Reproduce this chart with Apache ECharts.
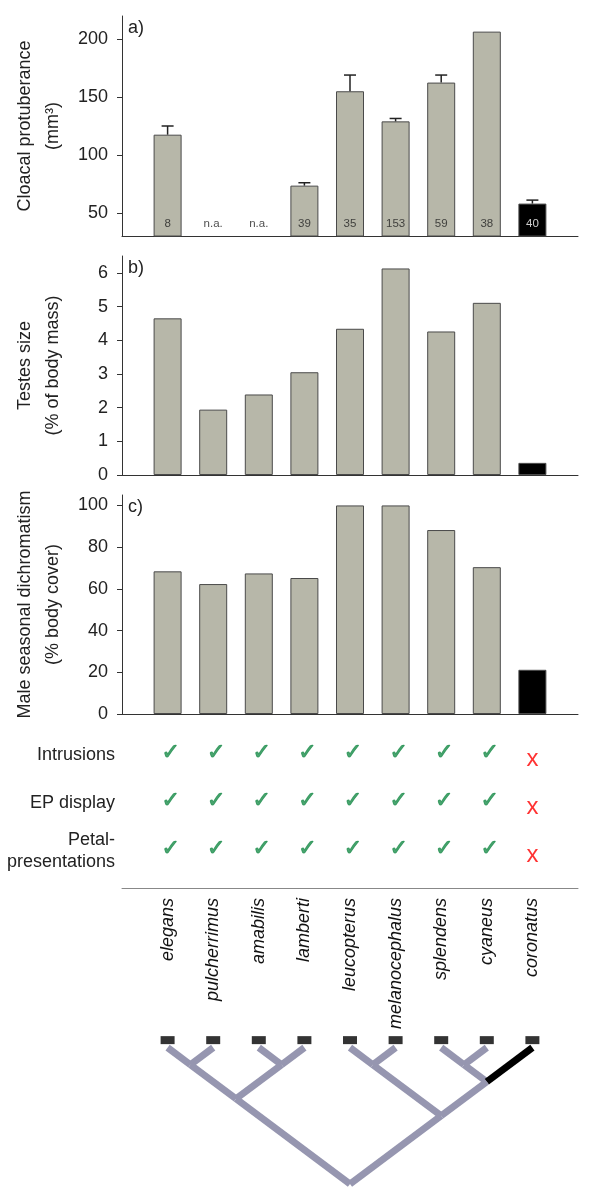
<!DOCTYPE html>
<html>
<head>
<meta charset="utf-8">
<style>
  html, body { margin: 0; padding: 0; background: #fff; }
  #chart { width: 600px; height: 1198px; }
</style>
<script src="https://cdn.jsdelivr.net/npm/echarts@6.0.0/dist/echarts.min.js"></script>
</head>
<body>
<div id="chart"></div>
<script>
const species = ['elegans', 'pulcherrimus', 'amabilis', 'lamberti', 'leucopterus', 'melanocephalus', 'splendens', 'cyaneus', 'coronatus'];

// a) cloacal protuberance (mm3), mean and upper error bar
const cloacal = [117.5, null, null, 73.5, 155, 129, 162.5, 206.5, 58];
const cloacalErr = [125, null, null, 76, 169, 131.5, 169, null, 61];
const sampleSizes = ['8', 'n.a.', 'n.a.', '39', '35', '153', '59', '38', '40'];
const cloacalTicks = [50, 100, 150, 200];

// b) testes size (% of body mass)
const testes = [4.65, 1.94, 2.39, 3.05, 4.34, 6.13, 4.26, 5.11, 0.36];
const testesTicks = [0, 1, 2, 3, 4, 5, 6];

// c) male seasonal dichromatism (% body cover)
const dichromatism = [68.4, 62.3, 67.4, 65.2, 100, 100, 88.2, 70.4, 21.2];
const dichromatismTicks = [0, 20, 40, 60, 80, 100];

// behaviour table (1 = present, 0 = absent)
const behaviours = ['Intrusions', 'EP display', 'Petal-\npresentations'];
const intrusions = [1, 1, 1, 1, 1, 1, 1, 1, 0];
const epDisplay = [1, 1, 1, 1, 1, 1, 1, 1, 0];
const petalPresentations = [1, 1, 1, 1, 1, 1, 1, 1, 0];

// cladogram: node -> [species position, depth below tips]
const treeNodes = {
  elegans: [1, 0], pulcherrimus: [2, 0], amabilis: [3, 0], lamberti: [4, 0],
  leucopterus: [5, 0], melanocephalus: [6, 0], splendens: [7, 0], cyaneus: [8, 0], coronatus: [9, 0],
  n12: [1.5, 0.5], n34: [3.5, 0.5], left: [2.5, 1.5],
  n56: [5.5, 0.5], n78: [7.5, 0.5], n789: [8, 1], right: [7, 2], root: [5, 4]
};
const treeEdges = [
  ['elegans', 'n12'], ['pulcherrimus', 'n12'], ['amabilis', 'n34'], ['lamberti', 'n34'],
  ['n12', 'left'], ['n34', 'left'], ['left', 'root'],
  ['leucopterus', 'n56'], ['melanocephalus', 'n56'], ['splendens', 'n78'], ['cyaneus', 'n78'],
  ['n78', 'n789'], ['coronatus', 'n789'], ['n56', 'right'], ['n789', 'right'], ['right', 'root']
];
const highlightedBranch = 'coronatus';

const FONT = 'Liberation Sans, Arial, sans-serif';
const GREY = '#b7b7a9';

const panels = [
  { values: cloacal, min: 30, max: 220, ticks: cloacalTicks, name: 'Cloacal protuberance\n(mm³)', tag: 'a)', top: 16, height: 220 },
  { values: testes, min: 0, max: 6.5, ticks: testesTicks, name: 'Testes size\n(% of body mass)', tag: 'b)', top: 256, height: 219 },
  { values: dichromatism, min: 0, max: 105, ticks: dichromatismTicks, name: 'Male seasonal dichromatism\n(% body cover)', tag: 'c)', top: 495, height: 219 }
];

const grid = [];
const xAxis = [];
const yAxis = [];
const series = [];
const title = [];

panels.forEach((p, i) => {
  grid.push({ left: 122, right: 22, top: p.top, height: p.height });
  xAxis.push({
    type: 'value', gridIndex: i, min: 0, max: 10,
    axisLine: { show: true, onZero: false, lineStyle: { color: '#333', width: 1 } },
    axisTick: { show: false }, axisLabel: { show: false }, splitLine: { show: false }
  });
  yAxis.push({
    type: 'value', gridIndex: i, min: p.min, max: p.max,
    name: p.name, nameLocation: 'middle', nameRotate: 90, nameGap: 55,
    nameTextStyle: { fontSize: 18, lineHeight: 28, color: '#222', fontFamily: FONT },
    axisLine: { show: true, lineStyle: { color: '#333', width: 1 } },
    axisTick: { show: true, length: 5, customValues: p.ticks, lineStyle: { color: '#333' } },
    axisLabel: { customValues: p.ticks, fontSize: 18, color: '#222', margin: 14, fontFamily: FONT },
    splitLine: { show: false }
  });
  title.push({
    text: p.tag, left: 128, top: p.top + 3, padding: 0,
    textStyle: { fontSize: 18, fontWeight: 'normal', color: '#222', fontFamily: FONT }
  });
  series.push({
    type: 'bar', xAxisIndex: i, yAxisIndex: i, barWidth: 28,
    data: p.values.map((v, k) => v == null ? null : [k + 1, v]).filter(Boolean),
    itemStyle: {
      color: d => d.value[0] === species.length ? '#000' : GREY,
      borderColor: '#4a4a4a', borderWidth: 1
    }
  });
});

// error bars on panel a
series.push({
  type: 'custom', xAxisIndex: 0, yAxisIndex: 0, z: 3,
  data: cloacalErr.map((e, k) => e == null ? null : [k + 1, cloacal[k], e]).filter(Boolean),
  renderItem: (params, api) => {
    const a = api.coord([api.value(0), api.value(1)]);
    const b = api.coord([api.value(0), api.value(2)]);
    const st = { stroke: '#222', lineWidth: 1.5 };
    return {
      type: 'group', children: [
        { type: 'line', shape: { x1: a[0], y1: a[1], x2: b[0], y2: b[1] }, style: st },
        { type: 'line', shape: { x1: b[0] - 6, y1: b[1], x2: b[0] + 6, y2: b[1] }, style: st }
      ]
    };
  }
});

// sample sizes at the foot of panel a
series.push({
  type: 'scatter', xAxisIndex: 0, yAxisIndex: 0, z: 4, symbolSize: 1,
  itemStyle: { color: 'rgba(0,0,0,0)' },
  data: sampleSizes.map((s, k) => ({
    value: [k + 1, 30],
    label: { color: k === species.length - 1 ? '#fff' : '#222' }
  })),
  label: {
    show: true, position: 'top', distance: 6, fontSize: 11.5, fontFamily: FONT,
    formatter: d => sampleSizes[d.dataIndex]
  }
});

// behaviour table with species names below
grid.push({ left: 122, right: 22, top: 731, height: 157 });
xAxis.push({
  type: 'value', gridIndex: 3, min: 0, max: 10,
  axisLine: { show: true, onZero: false, lineStyle: { color: '#888', width: 1 } },
  axisTick: { show: false }, splitLine: { show: false },
  axisLabel: {
    customValues: species.map((s, k) => k + 1), formatter: v => species[v - 1],
    rotate: 90, margin: 10, fontSize: 18, fontStyle: 'italic', color: '#111', fontFamily: FONT
  }
});
yAxis.push({
  type: 'value', gridIndex: 3, min: 0.5, max: 3.77, inverse: true,
  axisLine: { show: false }, axisTick: { show: false }, splitLine: { show: false },
  axisLabel: {
    customValues: [1, 2, 3], formatter: v => behaviours[v - 1],
    margin: 7, fontSize: 18, lineHeight: 22, color: '#222', fontFamily: FONT
  }
});
const tableRows = [intrusions, epDisplay, petalPresentations];
const tableData = [];
tableRows.forEach((row, r) => {
  row.forEach((flag, k) => {
    tableData.push({
      value: [k + 1, r + 1],
      label: flag
        ? { formatter: '✓', color: '#1f8f4e', fontSize: 22, fontFamily: 'DejaVu Sans',
            textBorderColor: '#1f8f4e', textBorderWidth: 1, offset: [3, -2] }
        : { formatter: 'x', color: '#ff0000', fontSize: 24, fontFamily: FONT, offset: [0, 4] }
    });
  });
});
series.push({
  type: 'scatter', xAxisIndex: 3, yAxisIndex: 3, symbolSize: 1,
  itemStyle: { color: 'rgba(0,0,0,0)' },
  label: { show: true, position: 'inside' },
  data: tableData
});

// cladogram
grid.push({ left: 122, right: 22, top: 1034, height: 150 });
xAxis.push({ type: 'value', gridIndex: 4, min: 0, max: 10, show: false });
yAxis.push({ type: 'value', gridIndex: 4, min: -0.4, max: 4, inverse: true, show: false });
series.push({
  type: 'custom', xAxisIndex: 4, yAxisIndex: 4,
  data: treeEdges.map(e => [...treeNodes[e[0]], ...treeNodes[e[1]], e[0] === highlightedBranch ? 1 : 0]),
  renderItem: (params, api) => {
    const a = api.coord([api.value(0), api.value(1)]);
    const b = api.coord([api.value(2), api.value(3)]);
    return {
      type: 'line', shape: { x1: a[0], y1: a[1], x2: b[0], y2: b[1] },
      style: { stroke: api.value(4) ? '#000' : '#9696b0', lineWidth: 7, lineCap: 'butt' }
    };
  }
});
series.push({
  type: 'scatter', xAxisIndex: 4, yAxisIndex: 4, symbol: 'rect', symbolSize: [14, 8],
  itemStyle: { color: '#000' },
  data: species.map(s => [treeNodes[s][0], -0.22])
});

const chart = echarts.init(document.getElementById('chart'));
chart.setOption({
  animation: false,
  backgroundColor: '#fff',
  textStyle: { fontFamily: FONT },
  title,
  grid,
  xAxis,
  yAxis,
  series
});
</script>
</body>
</html>
